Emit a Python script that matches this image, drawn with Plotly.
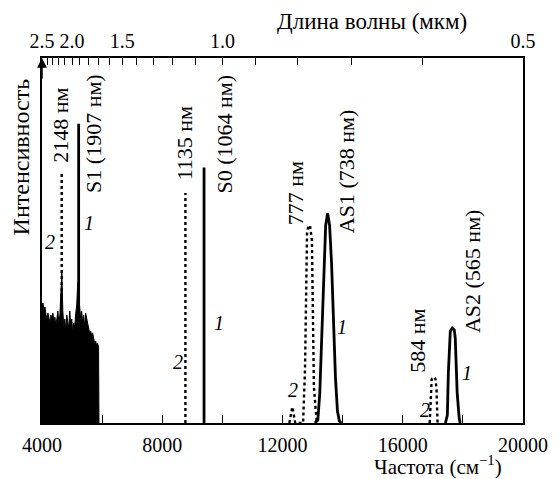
import plotly.graph_objects as go

# ---------------- data ----------------
# intensity scale: 0..100 (arbitrary units)
noise_start, noise_step = 4000, 33
noise_int = [32.3, 32.9, 30.7, 31.8, 29.6, 28.5, 30.1, 29.0, 27.4, 29.6,
             28.5, 30.1, 27.9, 29.0, 26.8, 28.5, 30.7, 27.4, 29.6, 35.6,
             41.1, 30.7, 26.3, 28.5, 25.2, 29.6, 27.4, 25.8, 30.7, 26.8,
             28.5, 24.7, 27.4, 26.3, 30.1, 32.3, 38.4, 35.6, 32.9, 28.5,
             30.7, 27.4, 29.6, 26.3, 30.1, 28.5, 26.8, 25.8, 24.7, 25.2,
             24.1, 24.7, 23.6, 21.9, 22.5, 21.4, 21.9, 20.8]
noise_freq = [noise_start + noise_step * i for i in range(len(noise_int))]
noise_freq = noise_freq + [5895]
noise_int = noise_int + [0]

# curve 1 (solid)
s1_freq, s1_int = [5219, 5219], [0, 82]
s0_freq, s0_int = [9390, 9390], [0, 70]
as1_freq = [13077, 13175, 13240, 13305, 13371, 13436, 13501, 13566, 13632,
            13697, 13762, 13828, 13893, 13958]
as1_int = [0, 0.8, 8.2, 24.7, 42.5, 54.2, 57.5, 54.2, 43.8, 27.4, 12.3, 3.3, 0.5, 0]
as2_freq = [17419, 17484, 17517, 17550, 17582, 17648, 17713, 17746, 17778,
            17811, 17876, 17909]
as2_int = [0, 2.2, 13.7, 21.9, 25.2, 26.0, 25.5, 23.3, 16.4, 8.2, 1.4, 0]

# curve 2 (dotted)
d2148_freq, d2148_int = [4655, 4655], [0, 68.5]
d1135_freq, d1135_int = [8770, 8770], [0, 63]
d777_freq = [12228, 12326, 12424, 12685, 12750, 12783, 12816, 12848, 12913,
             12979, 13012, 13044, 13110, 13142]
d777_int = [0, 4.4, 0, 0, 15, 40, 52, 53.5, 54.2, 50, 30, 10, 3, 0]
d584_freq = [16897, 16929, 16962, 17027, 17092, 17125, 17158]
d584_int = [0, 9, 12, 12.6, 12, 9, 0]

# axes
bottom_ticks = [4000, 6000, 8000, 10000, 12000, 14000, 16000, 18000, 20000]
bottom_labels = ["4000", "", "8000", "", "12000", "", "16000", "", "20000"]
top_wavelengths = [2.5, 2.4, 2.3, 2.2, 2.1, 2.0, 1.9, 1.8, 1.7, 1.6, 1.5, 1.4,
                   1.3, 1.2, 1.1, 1.0, 0.9, 0.8, 0.7, 0.6, 0.5]
top_labeled = {2.5: "2.5", 2.0: "2.0", 1.5: "1.5", 1.0: "1.0", 0.5: "0.5"}

# peak labels: (text, x, y)
peak_labels = [("2148 нм", 4620, 81.6), ("S1 (1907 нм)", 5730, 79.2),
               ("1135 нм", 8734, 76.7), ("S0 (1064 нм)", 10073, 79.2),
               ("777 нм", 12424, 63.0), ("AS1 (738 нм)", 14154, 68.8),
               ("584 нм", 16505, 22.5), ("AS2 (565 нм)", 18301, 41.6)]
curve_labels = [("1", 5567, 54.8), ("2", 4261, 49.6), ("1", 9877, 27.4),
                ("2", 8538, 16.7), ("1", 13991, 26.3), ("2", 12358, 9.0),
                ("1", 18137, 13.7), ("2", 16734, 3.6)]

# ---------------- figure ----------------
FONT = "Liberation Serif"
OFF = 8                       # default body margin of the html page
W, H = 560 - OFF, 479 - OFF   # figure ends at the window edge
L, T = 42 - OFF, 58 - OFF
R, B = W - (532 - OFF), H - (423 - OFF)
pw, ph = W - L - R, H - T - B


def px_to_paper(x, y):
    """window pixel -> paper coordinates"""
    return (x - OFF - L) / pw, (H - B - (y - OFF)) / ph


fig = go.Figure()

fig.add_trace(go.Scatter(x=noise_freq, y=noise_int, mode="lines", fill="tozeroy",
                         fillcolor="black", line=dict(color="black", width=1),
                         showlegend=False, hoverinfo="skip"))
for fx, fy in [(s1_freq, s1_int), (s0_freq, s0_int), (as1_freq, as1_int),
               (as2_freq, as2_int)]:
    fig.add_trace(go.Scatter(x=fx, y=fy, mode="lines",
                             line=dict(color="black", width=2.8),
                             showlegend=False))
for fx, fy in [(d2148_freq, d2148_int), (d1135_freq, d1135_int),
               (d777_freq, d777_int), (d584_freq, d584_int)]:
    fig.add_trace(go.Scatter(x=fx, y=fy, mode="lines",
                             line=dict(color="black", width=2.4, dash="dot"),
                             showlegend=False))
# carrier trace for the top (wavelength) axis
fig.add_trace(go.Scatter(x=[bottom_ticks[0], bottom_ticks[-1]], y=[0, 0],
                         xaxis="x2", yaxis="y", mode="lines",
                         line=dict(color="rgba(0,0,0,0)", width=0),
                         showlegend=False, hoverinfo="skip"))

ann = []
for t, x, y in peak_labels:
    ann.append(dict(x=x, y=y, xref="x", yref="y", text=t, showarrow=False,
                    textangle=-90, font=dict(family=FONT, size=22, color="black"),
                    xanchor="center", yanchor="middle"))
for t, x, y in curve_labels:
    ann.append(dict(x=x, y=y, xref="x", yref="y", text="<i>%s</i>" % t,
                    showarrow=False, font=dict(family=FONT, size=20, color="black"),
                    xanchor="center", yanchor="middle"))

for text, (x, y), size, ang in [
        ("Интенсивность", (21, 157), 24, -90),
        ("Длина волны (мкм)", (378, 22), 23, 0),
        ("Частота (см<sup>−1</sup>)", (445, 465), 21, 0)]:
    px, py = px_to_paper(x, y)
    ann.append(dict(x=px, y=py, xref="paper", yref="paper", text=text,
                    showarrow=False, textangle=ang, xanchor="center",
                    yanchor="middle", font=dict(family=FONT, size=size, color="black")))

# y-axis arrow
ann.append(dict(x=4000, y=100, xref="x", yref="y", ax=0, ay=22, text="",
                showarrow=True, arrowhead=2, arrowsize=1.3, arrowwidth=1.5,
                arrowcolor="black"))

fig.update_layout(
    width=W, height=H,
    margin=dict(l=L, r=R, t=T, b=B, pad=0),
    plot_bgcolor="white", paper_bgcolor="white",
    font=dict(family=FONT, size=20, color="black"),
    annotations=ann,
    xaxis=dict(range=[4000, 20000], tickvals=bottom_ticks, ticktext=bottom_labels,
               ticks="inside", ticklen=8, tickwidth=1.2, tickcolor="black",
               ticklabelstandoff=3,
               showline=True, linecolor="black", linewidth=1.5, showgrid=False,
               zeroline=False, tickfont=dict(family=FONT, size=20)),
    xaxis2=dict(range=[4000, 20000], overlaying="x", side="top", anchor="y",
                tickvals=[1e4 / w for w in top_wavelengths],
                ticktext=[top_labeled.get(w, "") for w in top_wavelengths],
                ticks="inside", ticklen=7, tickwidth=1.2, tickcolor="black",
                showline=True, linecolor="black", linewidth=1.5, showgrid=False,
                zeroline=False, tickfont=dict(family=FONT, size=20)),
    yaxis=dict(range=[0, 100], showticklabels=False, ticks="", showgrid=False,
               zeroline=False, showline=True, mirror=True, linecolor="black",
               linewidth=1.5),
)

fig.write_html("out.html")
